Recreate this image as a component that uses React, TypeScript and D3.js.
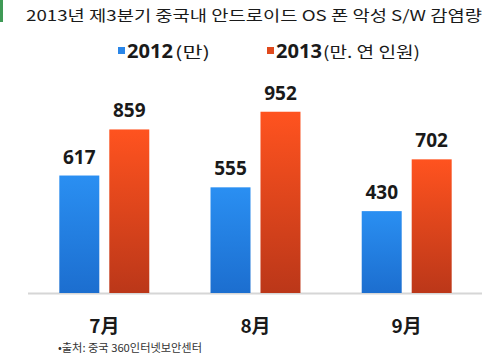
import React from "react";
import * as d3 from "d3";

const title = "2013년 제3분기 중국내 안드로이드 OS 폰 악성 S/W 감염량";
const months = ["7月", "8月", "9月"];
const seriesKeys = ["2012", "2013"];
const seriesUnits = ["(만)", "(만. 연 인원)"];
const values2012 = [617, 555, 430];
const values2013 = [859, 952, 702];
const source = "•출처: 중국 360인터넷보안센터";

const W = 497;
const H = 356;

export default function App() {
  const x0 = d3.scaleBand<string>().domain(months).range([28.7, 482.3]).paddingInner(0.405).paddingOuter(0.2025);
  const x1 = d3.scaleBand<string>().domain(seriesKeys).range([0, x0.bandwidth()]).paddingInner(0.2).paddingOuter(0);
  const y = d3.scaleLinear().domain([0, 1000]).range([293, 102.6]);
  const series = [values2012, values2013];
  const grads = ["gBlue", "gOrange"];
  const labelFont = "'Noto Sans', 'Open Sans', sans-serif";
  const kr = "'Noto Sans CJK KR', 'Noto Sans', sans-serif";

  return (
    <svg width={W} height={H} style={{ position: "absolute", left: 0, top: 0 }} xmlns="http://www.w3.org/2000/svg">
      <defs>
        <linearGradient id="gBlue" x1="0" y1="0" x2="0" y2="1">
          <stop offset="0" stopColor="#2a8ff2" />
          <stop offset="1" stopColor="#1c6ecf" />
        </linearGradient>
        <linearGradient id="gOrange" x1="0" y1="0" x2="0" y2="1">
          <stop offset="0" stopColor="#ff531f" />
          <stop offset="1" stopColor="#bb3719" />
        </linearGradient>
      </defs>
      <rect x={0} y={0} width={W} height={H} fill="#ffffff" />
      <rect x={0} y={0} width={3} height={22} fill="#3f9a56" />
      <text x={26} y={21} fontFamily={kr} fontSize={15} fill="#1a1a1a" textLength={456} lengthAdjust="spacingAndGlyphs">
        {title}
      </text>

      {/* legend */}
      <rect x={118} y={47} width={7} height={7} fill="#2a86e8" />
      <text x={127} y={58} fontFamily={labelFont} fontWeight="bold" fontSize={19} fill="#1a1a1a" textLength={46} lengthAdjust="spacingAndGlyphs">{seriesKeys[0]}</text>
      <text x={175} y={58} fontFamily={kr} fontSize={16} fill="#1a1a1a" textLength={35} lengthAdjust="spacingAndGlyphs">{seriesUnits[0]}</text>
      <rect x={267} y={47} width={7} height={7} fill="#e0491c" />
      <text x={276} y={58} fontFamily={labelFont} fontWeight="bold" fontSize={19} fill="#1a1a1a" textLength={46} lengthAdjust="spacingAndGlyphs">{seriesKeys[1]}</text>
      <text x={323} y={58} fontFamily={kr} fontSize={16} fill="#1a1a1a" textLength={97} lengthAdjust="spacingAndGlyphs">{seriesUnits[1]}</text>

      {/* baseline */}
      <line x1={28} x2={482} y1={y(0) + 0.5} y2={y(0) + 0.5} stroke="#d6d6d6" strokeWidth={2} />

      {months.map((m, i) => (
        <g key={m} transform={`translate(${x0(m)},0)`}>
          {seriesKeys.map((k, s) => {
            const v = series[s][i];
            const bx = x1(k)!;
            return (
              <g key={k}>
                <rect x={bx} y={y(v)} width={x1.bandwidth()} height={y(0) - y(v)} fill={`url(#${grads[s]})`} />
                <text x={bx + x1.bandwidth() / 2} y={y(v) - 12} textAnchor="middle" fontFamily={labelFont} fontWeight="bold" fontSize={19} fill="#1a1a1a">
                  {v}
                </text>
              </g>
            );
          })}
          <text x={x0.bandwidth() / 2} y={333} textAnchor="middle" fontFamily={kr} fontWeight="bold" fontSize={19} fill="#1a1a1a">
            {m}
          </text>
        </g>
      ))}

      <text x={58} y={352} fontFamily={kr} fontSize={11} fill="#333333" textLength={144} lengthAdjust="spacingAndGlyphs">
        {source}
      </text>
    </svg>
  );
}
